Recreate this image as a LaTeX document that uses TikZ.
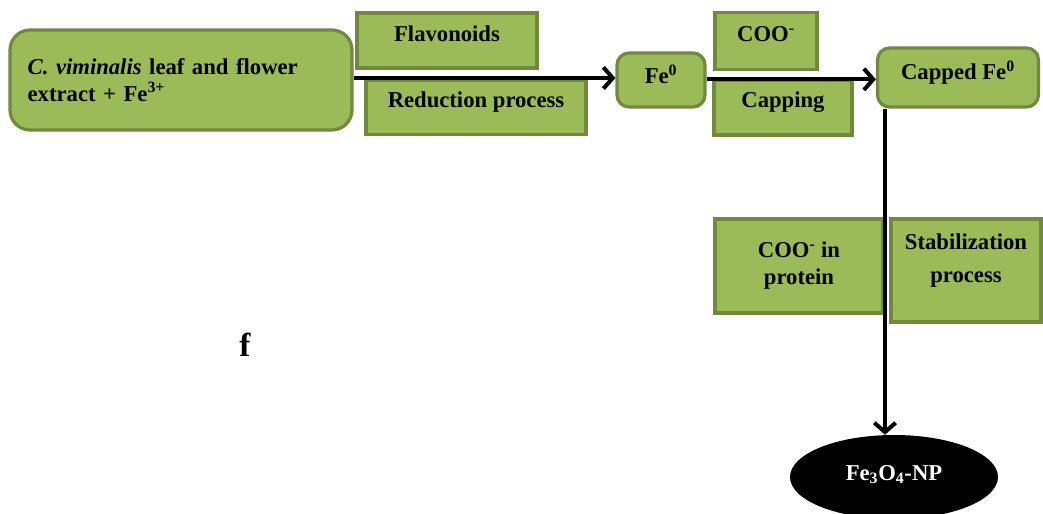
\documentclass[tikz,border=0pt]{standalone}
\usepackage{fontspec}
\setmainfont{Liberation Serif}
\usetikzlibrary{arrows.meta,shapes.geometric}
\definecolor{leafGreen}{HTML}{9BBB59}
\definecolor{leafEdge}{HTML}{71893F}
\tikzstyle{stepBox}=[draw=leafEdge,fill=leafGreen,line width=2.4pt,rectangle,inner sep=2pt,font=\fontsize{17}{20}\selectfont\bfseries,align=center]
\tikzstyle{roundBox}=[stepBox,rounded corners=9pt]
\tikzstyle{flow}=[-{Straight Barb[length=7pt,width=16pt]}, line width=3pt]

\begin{document}
\begin{tikzpicture}[x=0.75pt,y=-0.75pt]

    \useasboundingbox (0,0) rectangle (1043,514);

    % process nodes
    \node[roundBox,rounded corners=15pt,minimum width=256.5pt,minimum height=75pt,text width=230pt,align=left] (source) at (181,80)
        {\textit{C. viminalis} leaf and flower\\extract + Fe\textsuperscript{3+}};
    \node[roundBox,minimum width=66pt,minimum height=40.5pt,text height=11pt,text depth=5.5pt] (fezero) at (661,80) {Fe\textsuperscript{0}};
    \node[roundBox,minimum width=120.75pt,minimum height=44.25pt,text height=11pt,text depth=7.8pt] (capped) at (958,77.5) {Capped Fe\textsuperscript{0}};
    \node[ellipse,fill=black,minimum width=156pt,minimum height=63pt,text=white,font=\fontsize{17}{20}\selectfont\bfseries,text height=11pt,text depth=6pt] (np) at (894,477)
        {Fe\textsubscript{3}O\textsubscript{4}-NP};

    % side labels
    \node[stepBox,minimum width=135pt,minimum height=41.25pt,text height=11pt,text depth=9.2pt] (flavo) at (447,40.5) {Flavonoids};
    \node[stepBox,minimum width=165pt,minimum height=40.5pt,text height=11pt,text depth=11.5pt] (reduce) at (476,107.5) {Reduction process};
    \node[stepBox,minimum width=76.5pt,minimum height=42.75pt,text height=11pt,text depth=10pt] (carbox) at (766,41) {COO\textsuperscript{-}};
    \node[stepBox,minimum width=103.5pt,minimum height=41.25pt,text height=11pt,text depth=11.5pt] (capping) at (783,107.5) {Capping};
    \node[stepBox,minimum width=126pt,minimum height=70.5pt] (protein) at (799,266) {COO\textsuperscript{-} in\\[0.25pt]protein};
    \node[stepBox,minimum width=112.5pt,minimum height=77.25pt,text height=36pt,text depth=17.5pt] (stab) at (966,270.5) {Stabilization\\[4.75pt]process};

    \node[font=\fontsize{25}{30}\selectfont\bfseries] (flabel) at (245,345) {f};

    \coordinate (drop) at (885,0);

    % connectors
    \draw[flow] ([yshift=1.5pt]source.east) -- ([yshift=1.5pt]fezero.west);
    \draw[flow] ([yshift=0.5pt]fezero.east) -- ([yshift=0.5pt]fezero.east -| capped.west);
    \draw[flow] (capped.south -| drop) -- (np.north -| drop);

\end{tikzpicture}
\end{document}
